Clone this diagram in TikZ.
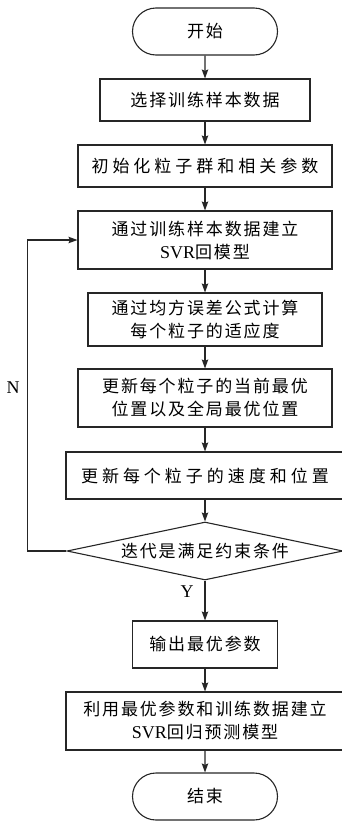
\documentclass[tikz,border=0pt]{standalone}
\usepackage{fontspec}
\setmainfont{Noto Sans CJK SC}[LetterSpace=11]
\newfontfamily\cjkwide{Noto Sans CJK SC}[LetterSpace=23.5]
\newfontfamily\latfam{Liberation Serif}
\newcommand\lat{\latfam\fontsize{18pt}{23pt}\selectfont}
\usetikzlibrary{arrows.meta,shapes.misc,shapes.geometric}
\tikzset{
  base/.style={draw=black!85, line width=1.1pt, inner sep=0pt, align=center,
    font=\fontsize{17pt}{23pt}\selectfont},
  procbox/.style={base, rectangle},
  termbox/.style={base, rounded rectangle, minimum width=145pt, minimum height=47pt},
  decbox/.style={base, diamond, aspect=4.76, minimum width=276pt, minimum height=58pt},
  arr/.style={draw=black!85, line width=1.1pt, -{Stealth[length=9pt,width=6.5pt,inset=1.5pt]}},
  lbl/.style={inner sep=0pt, font=\lat}
}
\begin{document}
\begin{tikzpicture}[x=1pt,y=-1pt]
\useasboundingbox (0,0) rectangle (341,822);
\node[termbox] (start) at (205,31.5) {开始};
\node[procbox, minimum width=210pt, minimum height=42pt] (b1) at (205,100) {选择训练样本数据};
\node[procbox, minimum width=254pt, minimum height=42pt] (b2) at (205,166) {\cjkwide 初始化粒子群和相关参数};
\node[procbox, minimum width=254pt, minimum height=58pt] (b3) at (205,240) {通过训练样本数据建立\\{\lat SVR}回模型};
\node[procbox, minimum width=234pt, minimum height=53pt] (b4) at (205,319.5) {通过均方误差公式计算\\每个粒子的适应度};
\node[procbox, minimum width=254pt, minimum height=58pt] (b5) at (205,398) {更新每个粒子的当前最优\\位置以及全局最优位置};
\node[procbox, minimum width=278pt, minimum height=47pt] (b6) at (205,475.5) {\cjkwide 更新每个粒子的速度和位置};
\node[decbox] (dia) at (205,551) {迭代是满足约束条件};
\node[procbox, minimum width=145pt, minimum height=47pt] (b7) at (205,644.5) {输出最优参数};
\node[procbox, minimum width=278pt, minimum height=58pt] (b8) at (205,721) {利用最优参数和训练数据建立\\{\lat SVR}回归预测模型};
\node[termbox] (stop) at (205,796.5) {结束};
\node[lbl] (ylab) at (187,592) {Y};
\node[lbl] (nlab) at (13,388) {N};
\draw[arr] (start) -- (b1);
\draw[arr] (b1) -- (b2);
\draw[arr] (b2) -- (b3);
\draw[arr] (b3) -- (b4);
\draw[arr] (b4) -- (b5);
\draw[arr] (b5) -- (b6);
\draw[arr] (b6) -- (dia);
\draw[arr] (dia) -- (b7);
\draw[arr] (b7) -- (b8);
\draw[arr] (b8) -- (stop);
\draw[arr] (dia.west) -- ++(-39,0) |- (b3.west);
\end{tikzpicture}
\end{document}
